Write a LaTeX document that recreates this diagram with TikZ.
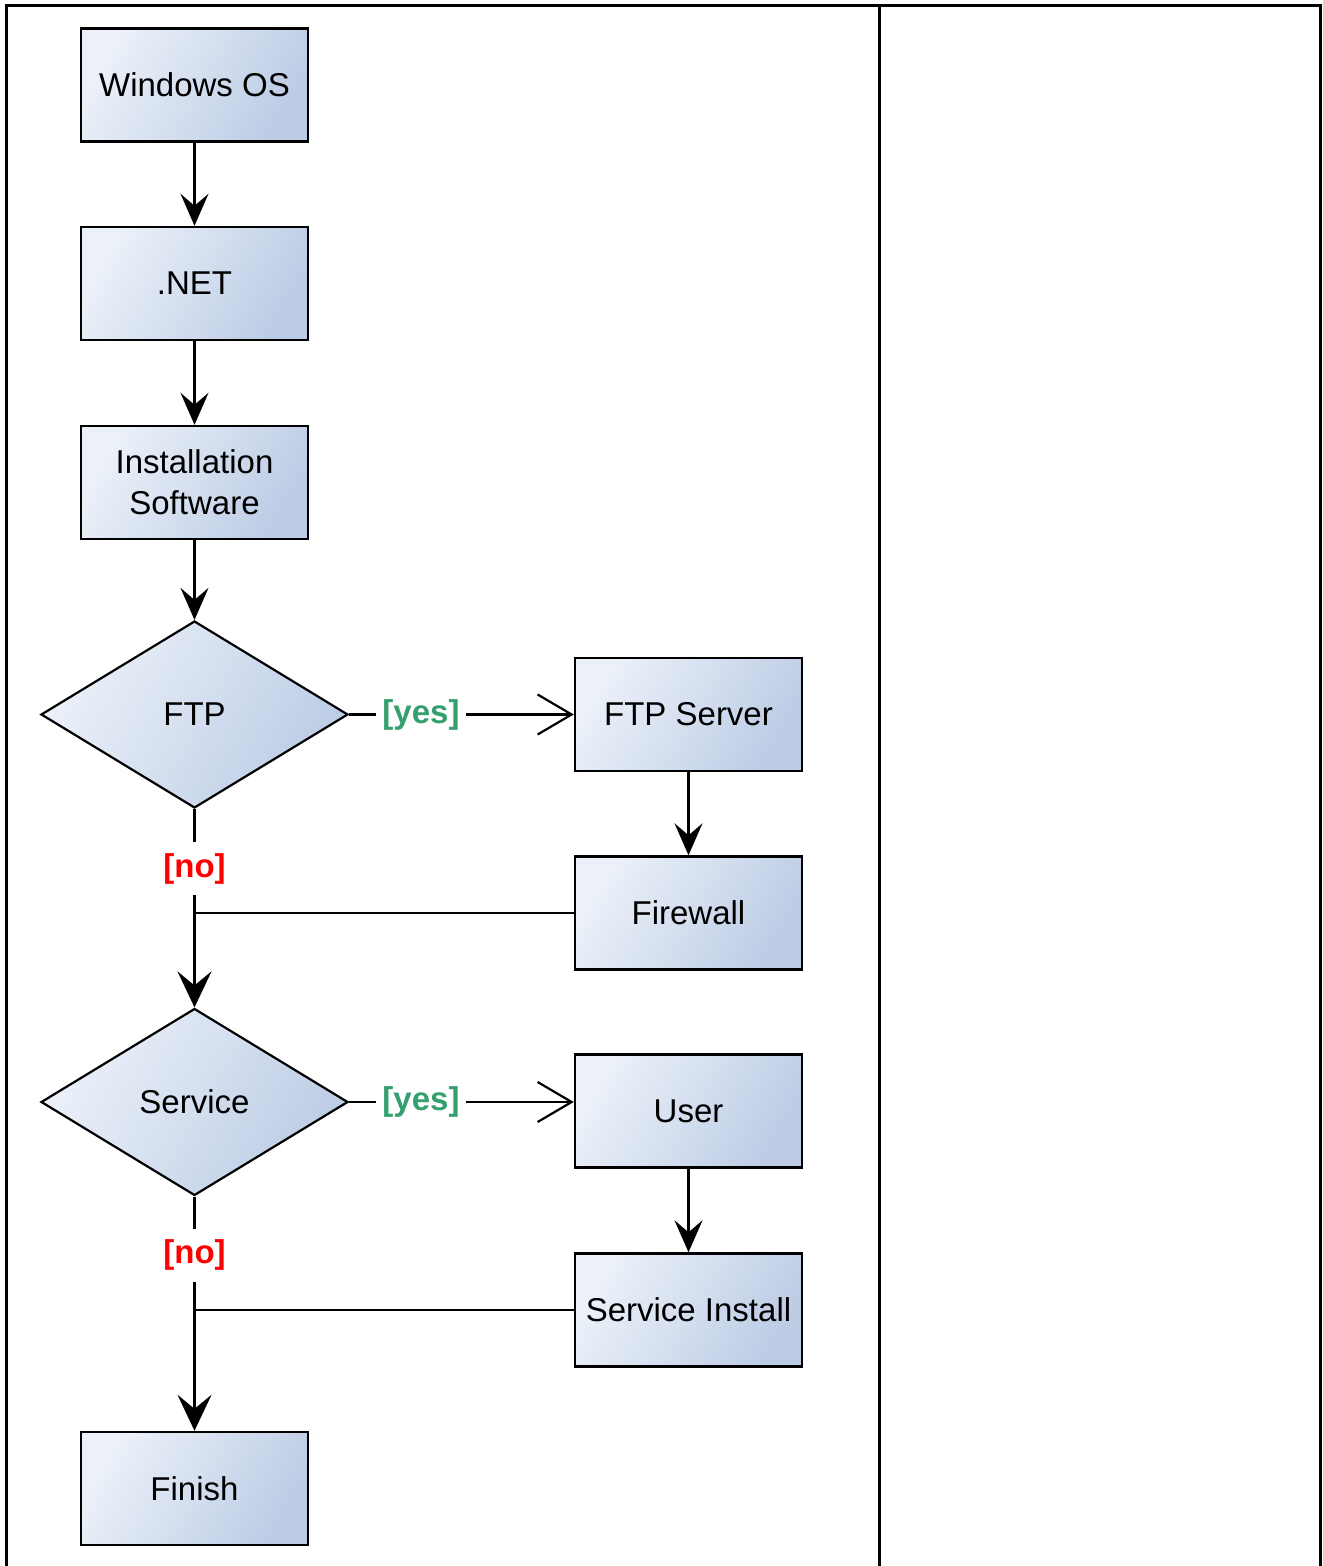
\documentclass[tikz,border=0pt]{standalone}
\usepackage{fontspec}
\setmainfont{Liberation Sans}
\usetikzlibrary{arrows.meta, shapes.geometric}
\definecolor{boxlight}{RGB}{236,241,249}
\definecolor{boxdark}{RGB}{188,204,229}
\definecolor{yesgreen}{RGB}{52,160,110}
\tikzstyle{stepbox}=[shape=rectangle, draw=black, line width=1.2pt, minimum width=113.5pt, minimum height=56.5pt, left color=boxlight, right color=boxdark, shading angle=60, align=center, font=\fontsize{16.5}{20.5}\selectfont]
\tikzstyle{choice}=[shape=diamond, draw=black, line width=1.1pt, minimum width=153.5pt, minimum height=93.5pt, inner sep=0pt, left color=boxlight, right color=boxdark, shading angle=60, font=\fontsize{16.5}{20.5}\selectfont]
\tikzstyle{flow}=[line width=1.1pt, -{Stealth[length=16pt, width=14pt, inset=6pt]}]
\tikzstyle{noflow}=[line width=1.4pt, -{Stealth[length=18pt, width=17pt, inset=7pt]}]
\tikzstyle{yesflow}=[line width=1.1pt, -{Straight Barb[length=17pt, width=20pt]}]
\tikzstyle{joinline}=[line width=1.3pt]
\tikzstyle{yeslabel}=[fill=white, text=yesgreen, inner xsep=3pt, font=\fontsize{16.5}{20}\selectfont\bfseries]
\tikzstyle{nolabel}=[fill=white, text=red, inner xsep=2pt, inner ysep=5.5pt, font=\fontsize{16.5}{20}\selectfont\bfseries]
\tikzstyle{frameline}=[line width=1.5pt]

\begin{document}
\begin{tikzpicture}[x=0.5pt, y=-0.5pt]
\useasboundingbox (0,0) rectangle (1322,1566);
%table frame
\draw[frameline] (6,1566) -- (6,6) -- (1320,6) -- (1320,1566);
\draw[frameline] (879,6) -- (879,1566);
%main column
\node[stepbox] (win) at (194.5,85) {Windows OS};
\node[stepbox] (net) at (194.5,283.5) {.NET};
\node[stepbox] (inst) at (194.5,482.5) {Installation\\Software};
\node[choice] (ftp) at (194.5,714.5) {FTP};
\node[choice] (service) at (194.5,1102) {Service};
\node[stepbox] (finish) at (194.5,1488.5) {Finish};
%right column
\node[stepbox] (ftpserver) at (688.5,714.5) {FTP Server};
\node[stepbox] (firewall) at (688.5,913) {Firewall};
\node[stepbox] (user) at (688.5,1111) {User};
\node[stepbox] (servinst) at (688.5,1310) {Service Install};
\coordinate (join1) at (194.5,913);
\coordinate (join2) at (194.5,1310);
%arrows
\draw[flow] (win) -- (net);
\draw[flow] (net) -- (inst);
\draw[flow] (inst) -- (ftp);
\draw[yesflow] (ftp.east) -- node[yeslabel, pos=0.32] {[yes]} (ftp.east -| ftpserver.west);
\draw[flow] (ftpserver) -- (firewall);
\draw[noflow] (ftp) -- node[nolabel, pos=0.3] {[no]} (service);
\draw[joinline] (firewall) -- (join1);
\draw[yesflow] (service.east) -- node[yeslabel, pos=0.32] {[yes]} (service.east -| user.west);
\draw[flow] (user) -- (servinst);
\draw[noflow] (service) -- node[nolabel, pos=0.25] {[no]} (finish);
\draw[joinline] (servinst) -- (join2);
\end{tikzpicture}
\end{document}
